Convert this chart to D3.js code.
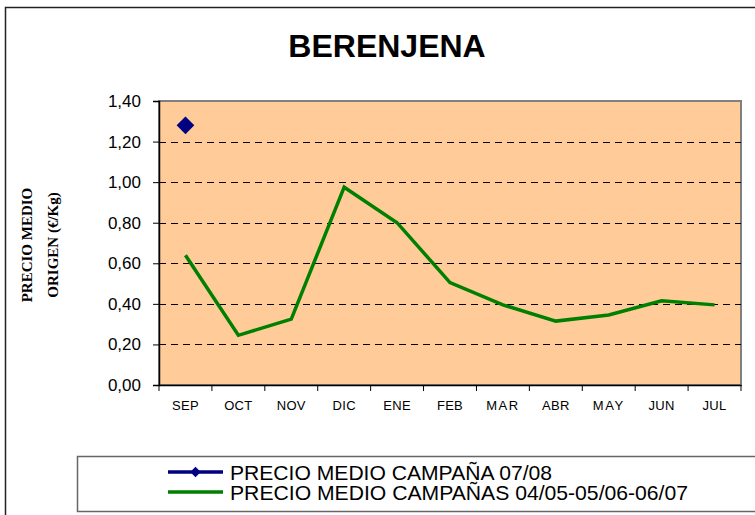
<!DOCTYPE html>
<html>
<head>
<meta charset="utf-8">
<script src="https://cdn.jsdelivr.net/npm/d3@7"></script>
<style>
  body { margin: 0; background: #fff; }
  svg { display: block; }
</style>
</head>
<body>
<div id="wrapper"></div>
<script>
// data
const months = ['SEP', 'OCT', 'NOV', 'DIC', 'ENE', 'FEB', 'MAR', 'ABR', 'MAY', 'JUN', 'JUL']
const avgPrices = [0.64, 0.245, 0.325, 0.975, 0.8, 0.505, 0.395, 0.315, 0.345, 0.415, 0.395]
const currentMonths = ['SEP']
const currentPrices = [1.28]
const yTicks = [0, 0.2, 0.4, 0.6, 0.8, 1.0, 1.2, 1.4]
const seriesNames = ['PRECIO MEDIO CAMPAÑA 07/08', 'PRECIO MEDIO CAMPAÑAS 04/05-05/06-06/07']

const dimensions = {
  width: 755,
  height: 515,
  margin: { top: 101, right: 14, bottom: 130, left: 159 },
}
dimensions.boundedWidth = dimensions.width - dimensions.margin.left - dimensions.margin.right
dimensions.boundedHeight = dimensions.height - dimensions.margin.top - dimensions.margin.bottom

const wrapper = d3.select('#wrapper')
  .append('svg')
  .attr('width', dimensions.width)
  .attr('height', dimensions.height)

// outer chart border (runs off the right / bottom edge)
wrapper.append('rect')
  .attr('x', 5.5).attr('y', 7.5)
  .attr('width', 800).attr('height', 600)
  .attr('fill', 'none').attr('stroke', '#222').attr('stroke-width', 1.5)

// title
wrapper.append('text')
  .attr('x', 387).attr('y', 57)
  .attr('text-anchor', 'middle')
  .style('font', 'bold 32px Arial, "Liberation Sans", sans-serif')
  .text('BERENJENA')

// y axis title
const yTitle = wrapper.append('text')
  .attr('transform', 'translate(40, 245) rotate(-90)')
  .attr('text-anchor', 'middle')
  .style('font', 'bold 15px "Times New Roman", "Liberation Serif", serif')
yTitle.append('tspan').attr('x', 0).attr('dy', -8).text('PRECIO MEDIO')
yTitle.append('tspan').attr('x', 0).attr('dy', 26).text('ORIGEN (€/Kg)')

const bounds = wrapper.append('g')
  .attr('transform', `translate(${dimensions.margin.left}, ${dimensions.margin.top})`)

// scales
const xScale = d3.scaleBand()
  .domain(months)
  .range([0, dimensions.boundedWidth])
const xCenter = (m) => xScale(m) + xScale.bandwidth() / 2

const yScale = d3.scaleLinear()
  .domain([0, 1.4])
  .range([dimensions.boundedHeight, 0])

// plot area
bounds.append('rect')
  .attr('width', dimensions.boundedWidth)
  .attr('height', dimensions.boundedHeight)
  .attr('fill', '#FFCC99')
  .attr('stroke', '#808080')
  .attr('stroke-width', 2)

// gridlines
bounds.append('g')
  .selectAll('line')
  .data(yTicks.filter((d) => d > 0 && d < 1.4))
  .join('line')
  .attr('x1', 0)
  .attr('x2', dimensions.boundedWidth)
  .attr('y1', (d) => Math.round(yScale(d)) + 0.5)
  .attr('y2', (d) => Math.round(yScale(d)) + 0.5)
  .attr('stroke', '#000')
  .attr('stroke-dasharray', '7,5')

// axes
const fmt = (d) => d3.format('.2f')(d).replace('.', ',')
const yAxis = bounds.append('g')
  .call(d3.axisLeft(yScale).tickValues(yTicks).tickFormat(fmt).tickSize(6).tickPadding(12))
yAxis.select('.domain').attr('stroke', '#000').attr('stroke-width', 1.5)
yAxis.selectAll('text')
  .style('font', '17px Arial, "Liberation Sans", sans-serif')
  .attr('fill', '#000')

const xAxis = bounds.append('g')
  .attr('transform', `translate(0, ${dimensions.boundedHeight})`)
  .call(d3.axisBottom(xScale).tickSize(0).tickPadding(16))
xAxis.select('.domain').attr('stroke', '#000').attr('stroke-width', 1.5)
xAxis.selectAll('text')
  .style('font', '13px Arial, "Liberation Sans", sans-serif')
  .style('letter-spacing', (d) => (d === 'MAR' || d === 'MAY' ? '1.5px' : '0.3px'))
  .attr('fill', '#000')

// category ticks between bands
bounds.append('g')
  .selectAll('line')
  .data(months.concat(['end']))
  .join('line')
  .attr('x1', (d, i) => i * xScale.bandwidth())
  .attr('x2', (d, i) => i * xScale.bandwidth())
  .attr('y1', dimensions.boundedHeight)
  .attr('y2', dimensions.boundedHeight + 6)
  .attr('stroke', '#000')

// average line
const lineGenerator = d3.line()
  .x((d, i) => xCenter(months[i]))
  .y((d) => yScale(d))

bounds.append('path')
  .attr('d', lineGenerator(avgPrices))
  .attr('fill', 'none')
  .attr('stroke', '#008000')
  .attr('stroke-width', 3.5)

// current campaign points
const diamond = d3.symbol().type(d3.symbolDiamond2).size(200)
bounds.append('g')
  .selectAll('path')
  .data(currentPrices)
  .join('path')
  .attr('d', diamond)
  .attr('transform', (d, i) => `translate(${xCenter(currentMonths[i])}, ${yScale(d)})`)
  .attr('fill', '#000080')

// legend
const legend = wrapper.append('g')
legend.append('rect')
  .attr('x', 77.5).attr('y', 456.5)
  .attr('width', 760).attr('height', 55)
  .attr('fill', '#fff').attr('stroke', '#666').attr('stroke-width', 1.5)

const legendColors = ['#000080', '#008000']
const legendWidths = [322, 458]
seriesNames.forEach((name, i) => {
  const y = 472 + i * 20
  legend.append('line')
    .attr('x1', 168).attr('x2', 223)
    .attr('y1', y).attr('y2', y)
    .attr('stroke', legendColors[i])
    .attr('stroke-width', 3.5)
  if (i === 0) {
    legend.append('path')
      .attr('d', d3.symbol().type(d3.symbolDiamond2).size(70))
      .attr('transform', `translate(195.5, ${y})`)
      .attr('fill', legendColors[i])
  }
  legend.append('text')
    .attr('x', 230).attr('y', y + 8)
    .attr('textLength', legendWidths[i])
    .attr('lengthAdjust', 'spacingAndGlyphs')
    .style('font', '21px Arial, "Liberation Sans", sans-serif')
    .text(name)
})
</script>
</body>
</html>
